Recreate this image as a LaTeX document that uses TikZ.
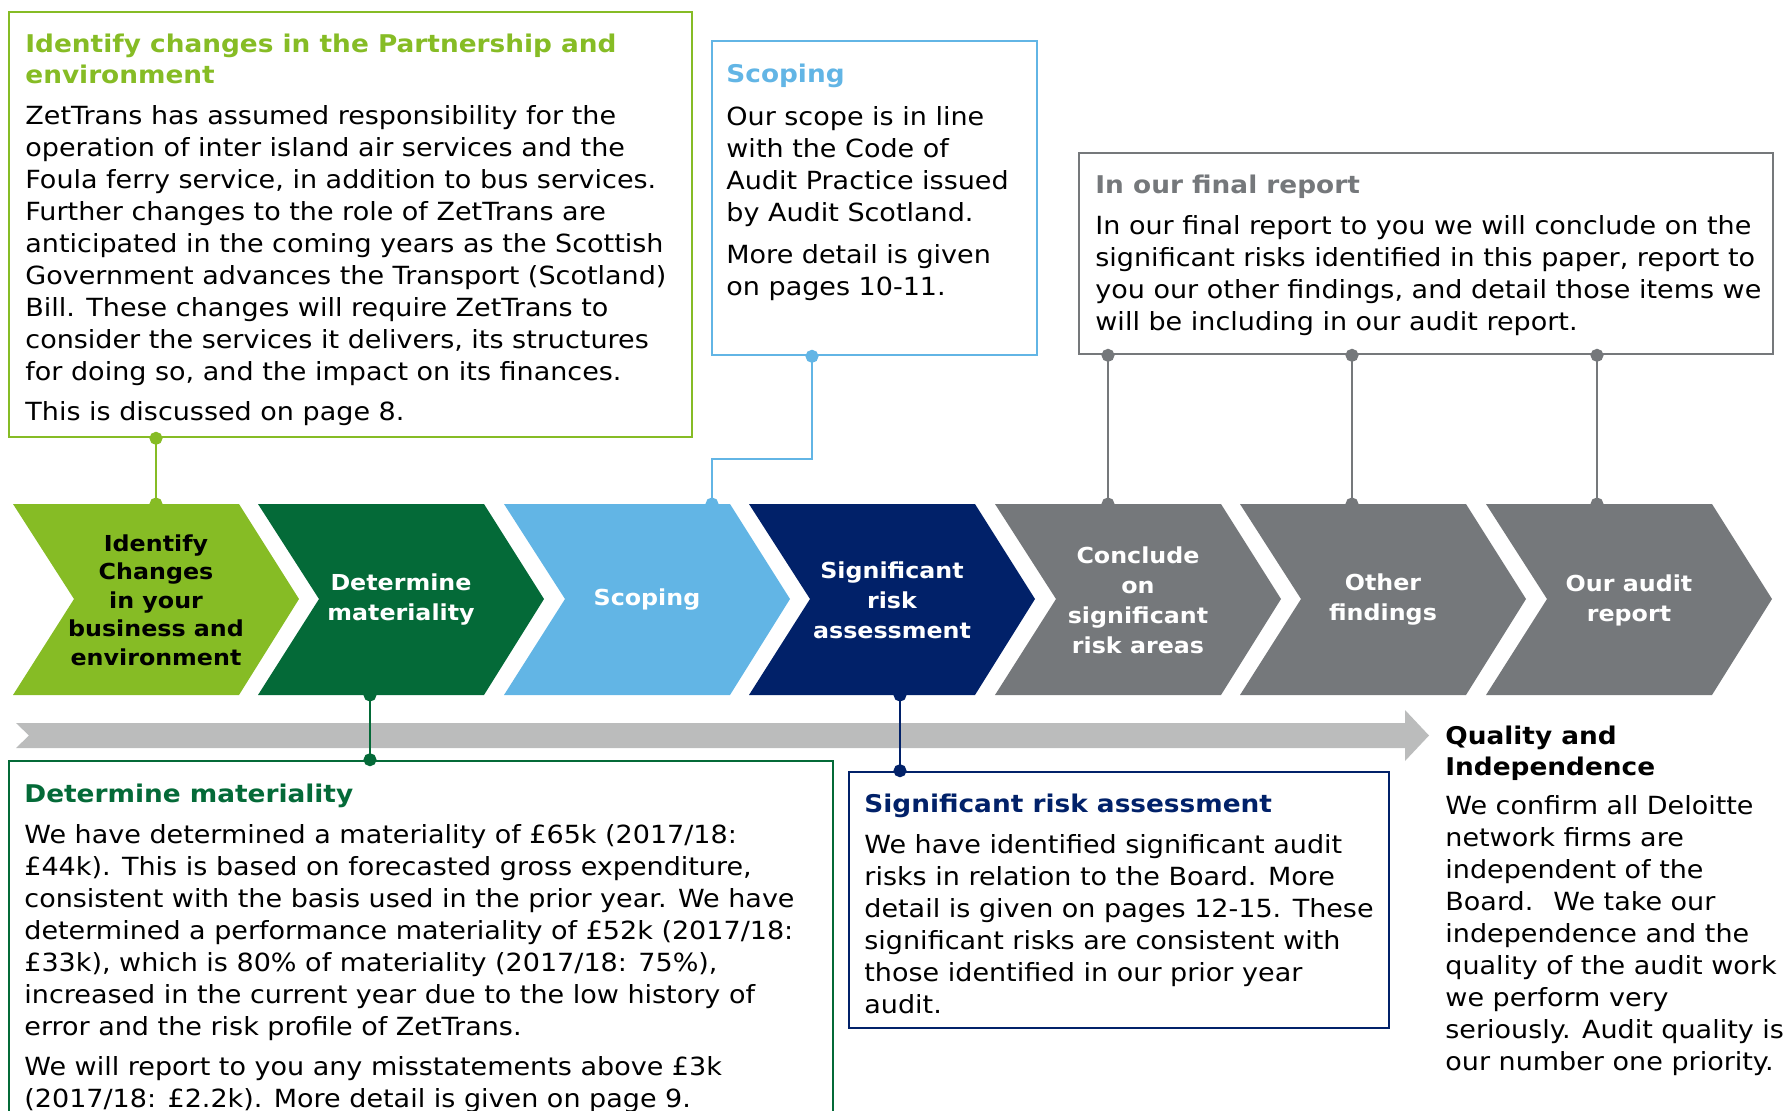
\documentclass[tikz,border=0pt]{standalone}
\usepackage{fontspec}
\setmainfont{DejaVu Sans}[FakeStretch=1.08]
\usetikzlibrary{arrows.meta, calc, fit, positioning}

\definecolor{idgreen}{HTML}{86BC25}
\definecolor{matgreen}{HTML}{046A38}
\definecolor{scopeblue}{HTML}{62B5E5}
\definecolor{risknavy}{HTML}{012169}
\definecolor{stepgray}{HTML}{75787B}
\definecolor{bargray}{HTML}{BBBCBC}

\begin{document}
\begin{tikzpicture}[
    x=0.5pt, y=-0.5pt,
    % --- STYLES ---
    chev/.style={
            align=center,
            inner sep=0pt,
            text=white,
            font=\fontsize{11}{15}\selectfont\bfseries
        },
    panel/.style={
            draw=#1,
            line width=1.3pt,
            inner sep=0pt
        },
    % multi-line texts sit on the baseline of their last line
    heading/.style={
            anchor=base west,
            align=left,
            inner sep=0pt,
            text=#1,
            font=\fontsize{12.2}{15.5}\selectfont\bfseries
        },
    body/.style={
            anchor=base west,
            align=left,
            inner sep=0pt,
            font=\fontsize{12.5}{16}\selectfont
        },
    link/.style={
            draw=#1,
            line width=1pt,
            {Circle[length=6.5pt]}-{Circle[length=6.5pt]},
            shorten <=-3.25pt,
            shorten >=-3.25pt
        }
    ]

    \useasboundingbox (0,0) rectangle (1789,1110);

    % --- PROCESS CHEVRONS ---
    \fill[idgreen]   (13,504)   -- ++(226,0) -- ++(60,95) -- ++(-60,96) -- ++(-226,0) -- ++(61,-96) -- cycle;
    \fill[matgreen]  (258,504)  -- ++(226,0) -- ++(60,95) -- ++(-60,96) -- ++(-226,0) -- ++(61,-96) -- cycle;
    \fill[scopeblue] (504,504)  -- ++(226,0) -- ++(60,95) -- ++(-60,96) -- ++(-226,0) -- ++(61,-96) -- cycle;
    \fill[risknavy]  (749,504)  -- ++(226,0) -- ++(60,95) -- ++(-60,96) -- ++(-226,0) -- ++(61,-96) -- cycle;
    \fill[stepgray]  (995,504)  -- ++(226,0) -- ++(60,95) -- ++(-60,96) -- ++(-226,0) -- ++(61,-96) -- cycle;
    \fill[stepgray]  (1240,504) -- ++(226,0) -- ++(60,95) -- ++(-60,96) -- ++(-226,0) -- ++(61,-96) -- cycle;
    \fill[stepgray]  (1486,504) -- ++(226,0) -- ++(60,95) -- ++(-60,96) -- ++(-226,0) -- ++(61,-96) -- cycle;

    \node[chev, text=black, font=\fontsize{11}{14.2}\selectfont\bfseries] (idstep) at (156,600)
        {Identify\\Changes\\in your\\business and\\environment};
    \node[chev] (matstep) at (401,600) {Determine\\materiality};
    \node[chev] (scopestep) at (647,600) {Scoping};
    \node[chev] (riskstep) at (892,600) {Significant\\risk\\assessment};
    \node[chev] (concludestep) at (1138,600) {Conclude\\on\\significant\\risk areas};
    \node[chev] (otherstep) at (1383,600) {Other\\findings};
    \node[chev] (reportstep) at (1629,600) {Our audit\\report};

    % timeline bar
    \fill[bargray] (16,723) -- (1405,723) -- (1405,710) -- (1429,735.5) -- (1405,761)
        -- (1405,748) -- (16,748) -- (29,735.5) -- cycle;

    % --- BOXES ---
    \node[panel=idgreen, fit={(9,12) (692,437)}] (idbox) {};
    \node[heading=idgreen] (idtitle) at (25,83) {Identify changes in the Partnership and\\environment};
    \node[body] (idtext) at (25,420) {ZetTrans has assumed responsibility for the\\
        operation of inter island air services and the\\
        Foula ferry service, in addition to bus services.\\
        Further changes to the role of ZetTrans are\\
        anticipated in the coming years as the Scottish\\
        Government advances the Transport (Scotland)\\
        Bill. These changes will require ZetTrans to\\
        consider the services it delivers, its structures\\
        for doing so, and the impact on its finances.\\[4pt]
        This is discussed on page 8.};

    \node[panel=scopeblue, fit={(712,41) (1037,355)}] (scopebox) {};
    \node[heading=scopeblue] (scopetitle) at (726,82) {Scoping};
    \node[body] (scopetext) at (726,295) {Our scope is in line\\
        with the Code of\\
        Audit Practice issued\\
        by Audit Scotland.\\[5pt]
        More detail is given\\
        on pages 10-11.};

    \node[panel=stepgray, fit={(1079,153) (1773,354)}] (finalbox) {};
    \node[heading=stepgray] (finaltitle) at (1095,193) {In our final report};
    \node[body] (finaltext) at (1095,330) {In our final report to you we will conclude on the\\
        significant risks identified in this paper, report to\\
        you our other findings, and detail those items we\\
        will be including in our audit report.};

    \node[panel=matgreen, fit={(9,761) (833,1120)}] (matbox) {};
    \node[heading=matgreen] (mattitle) at (24,802) {Determine materiality};
    \node[body] (mattext) at (24,1107) {We have determined a materiality of £65k (2017/18:\\
        £44k). This is based on forecasted gross expenditure,\\
        consistent with the basis used in the prior year. We have\\
        determined a performance materiality of £52k (2017/18:\\
        £33k), which is 80\% of materiality (2017/18: 75\%),\\
        increased in the current year due to the low history of\\
        error and the risk profile of ZetTrans.\\[4pt]
        We will report to you any misstatements above £3k\\
        (2017/18: £2.2k). More detail is given on page 9.};

    \node[panel=risknavy, fit={(849,772) (1389,1028)}] (riskbox) {};
    \node[heading=risknavy] (risktitle) at (864,812) {Significant risk assessment};
    \node[body] (risktext) at (864,1013) {We have identified significant audit\\
        risks in relation to the Board. More\\
        detail is given on pages 12-15. These\\
        significant risks are consistent with\\
        those identified in our prior year\\
        audit.};

    \node[heading=black] (qualtitle) at (1445,775) {Quality and\\Independence};
    \node[body] (qualtext) at (1445,1070) {We confirm all Deloitte\\
        network firms are\\
        independent of the\\
        Board.~ We take our\\
        independence and the\\
        quality of the audit work\\
        we perform very\\
        seriously. Audit quality is\\
        our number one priority.};

    % --- CONNECTORS ---
    \coordinate (idport) at (156,504);
    \coordinate (scopeport) at (712,504);
    \coordinate (scopeknee) at (812,459);
    \coordinate (matport) at (370,695);
    \coordinate (riskport) at (900,695);
    \coordinate (concludeport) at (1108,504);
    \coordinate (otherport) at (1352,504);
    \coordinate (reportport) at (1597,504);

    \draw[link=idgreen] (idport |- idbox.south) -- (idport);
    \draw[link=scopeblue] (scopeknee |- scopebox.south) -- (scopeknee) -- (scopeknee -| scopeport) -- (scopeport);
    \draw[link=matgreen] (matport) -- (matport |- matbox.north);
    \draw[link=risknavy] (riskport) -- (riskport |- riskbox.north);
    \draw[link=stepgray] (concludeport |- finalbox.south) -- (concludeport);
    \draw[link=stepgray] (otherport |- finalbox.south) -- (otherport);
    \draw[link=stepgray] (reportport |- finalbox.south) -- (reportport);

\end{tikzpicture}
\end{document}
